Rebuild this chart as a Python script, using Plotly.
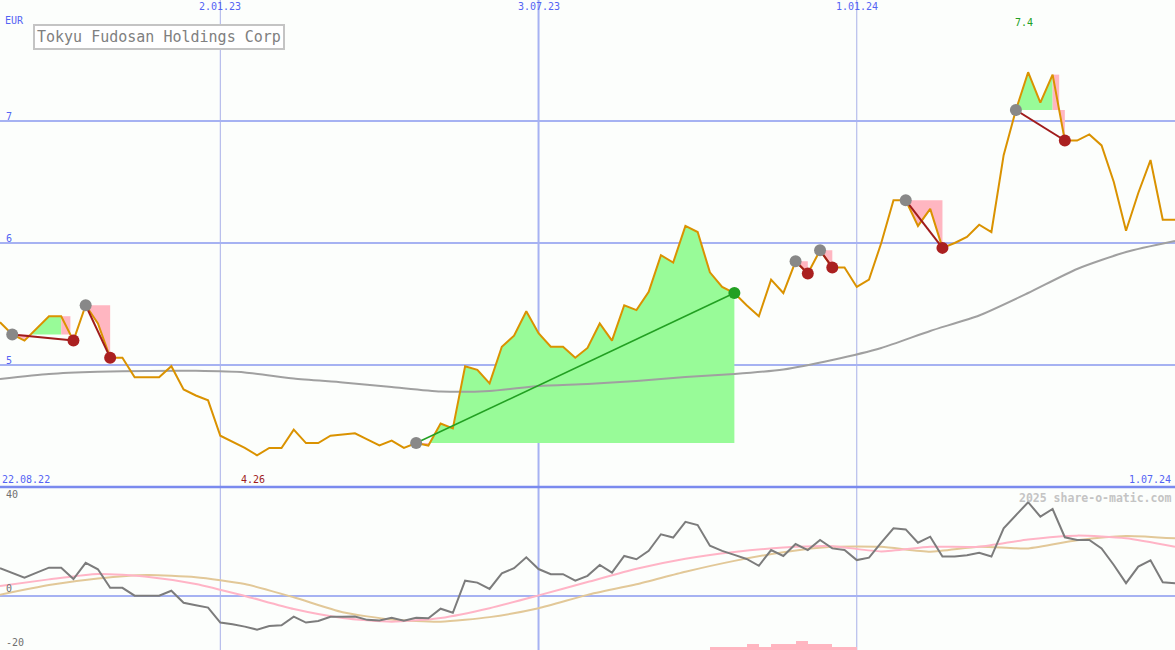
import numpy as np
import pandas as pd
import plotly.graph_objects as go

# ---------------- data ----------------
start_date = "2022-08-29"
dates = pd.date_range(start_date, periods=97, freq="7D")

price = [5.35, 5.25, 5.20, 5.30, 5.40, 5.40, 5.20, 5.49, 5.34, 5.06,
         5.06, 4.90, 4.90, 4.90, 4.99, 4.80, 4.75, 4.71, 4.42, 4.37,
         4.32, 4.26, 4.32, 4.32, 4.47, 4.36, 4.36, 4.42, 4.43, 4.44,
         4.39, 4.34, 4.38, 4.32, 4.36, 4.34, 4.52, 4.48, 4.99, 4.96,
         4.85, 5.15, 5.24, 5.44, 5.26, 5.15, 5.15, 5.06, 5.14, 5.34,
         5.20, 5.49, 5.45, 5.60, 5.90, 5.84, 6.14, 6.09, 5.76, 5.64,
         5.59, 5.49, 5.40, 5.70, 5.59, 5.85, 5.75, 5.94, 5.80, 5.80,
         5.64, 5.70, 6.00, 6.35, 6.35, 6.14, 6.28, 5.96, 6.00, 6.05,
         6.15, 6.09, 6.72, 7.09, 7.40, 7.15, 7.38, 6.84, 6.84, 6.89,
         6.80, 6.50, 6.10, 6.41, 6.68, 6.19, 6.19]

# long moving average, read every 4 weeks
ma_step = 4
ma_long = [4.885, 4.926, 4.944, 4.951, 4.952, 4.939, 4.889, 4.857, 4.820,
           4.783, 4.787, 4.828, 4.844, 4.869, 4.902, 4.926, 4.963, 5.041,
           5.139, 5.279, 5.406, 5.590, 5.787, 5.926, 6.016]

# trades: (entry week index, exit week index)
trade_entry = [1, 7, 34, 65, 67, 74, 83]
trade_exit = [6, 9, 60, 66, 68, 77, 87]

# lower panel indicator
momentum = [10.1, 8.2, 6.6, 8.5, 10.3, 10.3, 6.1, 12.1, 9.7, 2.9,
            2.9, 0.0, 0.0, 0.0, 1.8, -2.6, -3.5, -4.4, -9.9, -10.5,
            -11.4, -12.5, -11.2, -10.9, -7.7, -9.9, -9.3, -7.8, -7.8, -7.7,
            -8.9, -9.1, -8.1, -9.2, -8.1, -8.3, -4.8, -6.3, 5.5, 4.8,
            2.5, 8.2, 10.1, 14.1, 9.8, 7.9, 7.9, 5.5, 7.3, 11.3,
            8.5, 14.6, 13.4, 16.5, 22.6, 21.4, 27.2, 26.0, 18.4, 16.5,
            15.0, 13.5, 11.0, 16.8, 14.6, 19.0, 16.8, 20.5, 17.4, 16.8,
            13.1, 14.0, 19.5, 24.8, 24.4, 19.5, 21.7, 14.4, 14.4, 14.9,
            15.8, 14.4, 24.8, 29.7, 34.4, 29.1, 31.9, 21.5, 20.5, 20.5,
            17.4, 11.3, 4.6, 10.7, 13.0, 4.9, 4.6]
ind_step = 4
signal_pink = [3.6, 6.0, 8.0, 7.0, 4.3, -0.1, -4.9, -8.2, -9.6, -8.2, -4.6, 0.1,
               5.0, 9.9, 13.6, 16.1, 17.7, 18.2, 16.3, 18.0, 18.0, 20.7, 22.1,
               21.1, 18.0]
signal_tan = [0.3, 3.9, 6.3, 7.6, 6.8, 4.3, -0.6, -6.1, -8.8, -9.6, -7.9, -4.6,
              0.3, 4.2, 8.8, 12.8, 16.0, 18.0, 18.0, 16.2, 18.0, 17.4, 20.4,
              22.0, 21.1]
bar_start = 58
bar_values = [1, 1, 1, 2, 1, 2, 2, 3, 2, 2, 1, 1]

# labels
title_text = "Tokyu Fudosan Holdings Corp"
currency = "EUR"
vline_dates = ["2023-01-02", "2023-07-03", "2024-01-01"]
vline_labels = ["2.01.23", "3.07.23", "1.01.24"]
vline_widths = [1, 2, 1]
price_ticks = [5, 6, 7]
edge_labels = ["22.08.22", "1.07.24"]
ind_ticks = [40, 0, -20]
credit = "2025 share-o-matic.com"

# ---------------- styling ----------------
BG = "#fcfefc"
BLUE_TXT = "#5464f4"
GRID = "#a6b2f2"
VLINE = "#a8b0e8"
SEP = "#7a8aee"
ORANGE = "#da9200"
GREEN_FILL = "#98fb98"
PINK_FILL = "#ffb6c1"
MONO = "DejaVu Sans Mono"

p = np.array(price, dtype=float)
d0 = dates[0]


def fdate(f):
    return d0 + pd.to_timedelta(np.asarray(f, dtype=float) * 7, unit="D")


def dense_path(i0, i1, level):
    xs, ys = [], []
    for i in range(i0, i1):
        xs.append(float(i)); ys.append(p[i])
        a, b = p[i] - level, p[i + 1] - level
        if a * b < 0:
            xs.append(i + (level - p[i]) / (p[i + 1] - p[i])); ys.append(level)
    xs.append(float(i1)); ys.append(p[i1])
    return np.array(xs), np.array(ys)


def band_poly(i0, i1, level, above):
    xs, ys = dense_path(i0, i1, level)
    yc = np.maximum(ys, level) if above else np.minimum(ys, level)
    px = np.concatenate([xs, xs[::-1]])
    py = np.concatenate([yc, np.full(len(xs), level)])
    return px, py


fig = go.Figure()

# trade fills
for e, x in zip(trade_entry, trade_exit):
    L = p[e]
    win = p[x] > L
    if win:
        green_end = x
    else:
        k = x - 1
        while k > e and not (p[k] >= p[k - 1]):
            k -= 1
        green_end = max(k, e)
    # loss band (price below entry)
    gx, gy = band_poly(e, x, L, above=False)
    fig.add_trace(go.Scatter(x=fdate(gx), y=gy, fill="toself", fillcolor=PINK_FILL,
                             line=dict(width=0), mode="lines", hoverinfo="skip",
                             xaxis="x", yaxis="y", showlegend=False))
    # gain band (price above entry)
    if green_end > e:
        gx, gy = band_poly(e, green_end, L, above=True)
        fig.add_trace(go.Scatter(x=fdate(gx), y=gy, fill="toself", fillcolor=GREEN_FILL,
                                 line=dict(width=0), mode="lines", hoverinfo="skip",
                                 xaxis="x", yaxis="y", showlegend=False))
    # give-back block from the last peak
    if not win and p[green_end] > L:
        k = green_end
        xc = float(x)
        for i in range(k, x):
            if p[i + 1] < L <= p[i]:
                xc = i + (L - p[i]) / (p[i + 1] - p[i])
                break
        rx = [k, xc, xc, k, k]
        ry = [L, L, p[k], p[k], L]
        fig.add_trace(go.Scatter(x=fdate(rx), y=ry, fill="toself", fillcolor=PINK_FILL,
                                 line=dict(width=0), mode="lines", hoverinfo="skip",
                                 xaxis="x", yaxis="y", showlegend=False))

# long moving average
fig.add_trace(go.Scatter(x=dates[::ma_step], y=ma_long, mode="lines",
                         line=dict(color="#a0a0a0", width=2, shape="spline", smoothing=0.6),
                         hoverinfo="skip", xaxis="x", yaxis="y", showlegend=False))

# price
fig.add_trace(go.Scatter(x=dates, y=price, mode="lines",
                         line=dict(color=ORANGE, width=2),
                         xaxis="x", yaxis="y", showlegend=False))

# trade lines and markers
for e, x in zip(trade_entry, trade_exit):
    win = p[x] > p[e]
    col = "#22a022" if win else "#a01c1c"
    fig.add_trace(go.Scatter(x=[dates[e], dates[x]], y=[p[e], p[x]], mode="lines",
                             line=dict(color=col, width=2 if not win else 1.6),
                             hoverinfo="skip", xaxis="x", yaxis="y", showlegend=False))
for e, x in zip(trade_entry, trade_exit):
    win = p[x] > p[e]
    fig.add_trace(go.Scatter(x=[dates[e]], y=[p[e]], mode="markers",
                             marker=dict(color="#888888", size=12),
                             hoverinfo="skip", xaxis="x", yaxis="y", showlegend=False))
    fig.add_trace(go.Scatter(x=[dates[x]], y=[p[x]], mode="markers",
                             marker=dict(color="#22a022" if win else "#aa2020", size=12),
                             hoverinfo="skip", xaxis="x", yaxis="y", showlegend=False))

# lower panel
bar_x = dates[bar_start:bar_start + len(bar_values)]
fig.add_trace(go.Bar(x=bar_x, y=bar_values, marker=dict(color=PINK_FILL, line=dict(width=0)),
                     offset=0, width=7 * 24 * 3600 * 1000, hoverinfo="skip",
                     xaxis="x2", yaxis="y3", showlegend=False))
fig.add_trace(go.Scatter(x=dates[::ind_step], y=signal_tan, mode="lines",
                         line=dict(color="#e2c898", width=2, shape="spline", smoothing=0.6),
                         hoverinfo="skip", xaxis="x2", yaxis="y2", showlegend=False))
fig.add_trace(go.Scatter(x=dates[::ind_step], y=signal_pink, mode="lines",
                         line=dict(color="#ffb4c6", width=2, shape="spline", smoothing=0.6),
                         hoverinfo="skip", xaxis="x2", yaxis="y2", showlegend=False))
fig.add_trace(go.Scatter(x=dates, y=momentum, mode="lines",
                         line=dict(color="#7c7c7c", width=2),
                         hoverinfo="skip", xaxis="x2", yaxis="y2", showlegend=False))

W, H = 1175, 650
split = 163 / H
main_bottom = 4.0
main_top = 4.0 + 487 / 122

shapes = []
for dt, w in zip(vline_dates, vline_widths):
    shapes.append(dict(type="line", xref="x", yref="paper", x0=dt, x1=dt, y0=0, y1=1,
                       line=dict(color=VLINE if w == 1 else GRID, width=w), layer="below"))
shapes.append(dict(type="line", xref="paper", yref="paper", x0=0, x1=1, y0=split, y1=split,
                   line=dict(color=SEP, width=2.5), layer="above"))

ann = []
small = dict(family=MONO, size=10, color=BLUE_TXT)
for dt, lab in zip(vline_dates, vline_labels):
    ann.append(dict(x=dt, xref="x", y=1, yref="paper", text=lab, showarrow=False,
                    xanchor="center", yanchor="top", yshift=1, font=small))
for v in price_ticks:
    ann.append(dict(x=4 / W, xref="paper", y=v, yref="y", text=str(v), showarrow=False,
                    xanchor="left", yanchor="bottom", yshift=-3, font=small))
ann.append(dict(x=3 / W, xref="paper", y=1 - 20 / H, yref="paper", text=currency, showarrow=False,
                xanchor="left", yanchor="middle", font=small))
ann.append(dict(x=0, xref="paper", y=main_bottom, yref="y", text=edge_labels[0], showarrow=False,
                xanchor="left", yanchor="bottom", yshift=0, font=small))
ann.append(dict(x=1, xref="paper", y=main_bottom, yref="y", text=edge_labels[1], showarrow=False,
                xanchor="right", yanchor="bottom", yshift=0, xshift=-2, font=small))
imax = int(np.argmax(p)); imin = int(np.argmin(p))
ann.append(dict(x=dates[imax], xref="x", y=1 - 22 / H, yref="paper", text=f"{p[imax]:g}",
                showarrow=False, xanchor="center", yanchor="middle", xshift=-4,
                font=dict(family=MONO, size=10, color="#22a022")))
ann.append(dict(x=dates[imin], xref="x", y=main_bottom, yref="y", text=f"{p[imin]:g}",
                showarrow=False, xanchor="center", yanchor="bottom", xshift=-4,
                font=dict(family=MONO, size=10, color="#a01c1c")))
ann.append(dict(x=33 / W, xref="paper", y=1 - 37 / H, yref="paper", text=title_text,
                showarrow=False, xanchor="left", yanchor="middle",
                bordercolor="#c4c4c4", borderwidth=2, borderpad=2, bgcolor="#ffffff",
                font=dict(family=MONO, size=15, color="#808080")))
ann.append(dict(x=1, xref="paper", y=split, yref="paper", text=credit, showarrow=False,
                xanchor="right", yanchor="top", xshift=-2, yshift=-2,
                font=dict(family=MONO, size=11.5, color="#c4c4c4", weight="bold")))
ind_pos = {40: ("top", 0), 0: ("bottom", 0), -20: ("bottom", 0)}
for v in ind_ticks:
    ya, ys = ind_pos[v]
    ann.append(dict(x=4 / W, xref="paper", y=v, yref="y2", text=str(v), showarrow=False,
                    xanchor="left", yanchor=ya, yshift=ys,
                    font=dict(family=MONO, size=10, color="#707070")))

fig.update_layout(
    width=W, height=H, margin=dict(l=0, r=0, t=0, b=0),
    paper_bgcolor=BG, plot_bgcolor=BG, showlegend=False, bargap=0,
    xaxis=dict(domain=[0, 1], range=[dates[0], dates[-1]], type="date", visible=False,
               anchor="y"),
    xaxis2=dict(domain=[0, 1], matches="x", type="date", visible=False, anchor="y2"),
    yaxis=dict(domain=[split, 1], range=[main_bottom, main_top], tickvals=price_ticks,
               showticklabels=False, showgrid=True, gridcolor=GRID, gridwidth=2,
               zeroline=False, showline=False, ticks="", anchor="x"),
    yaxis2=dict(domain=[0, split], range=[-20, 40], tickvals=[0], showticklabels=False,
                showgrid=True, gridcolor=GRID, gridwidth=2, zeroline=False, ticks="",
                anchor="x2"),
    yaxis3=dict(domain=[0, split], range=[0, 54], overlaying="y2", visible=False,
                anchor="x2"),
    shapes=shapes, annotations=ann,
)

fig.write_html("out.html", config={"displayModeBar": False},
               post_script="document.body.style.margin='0';")
